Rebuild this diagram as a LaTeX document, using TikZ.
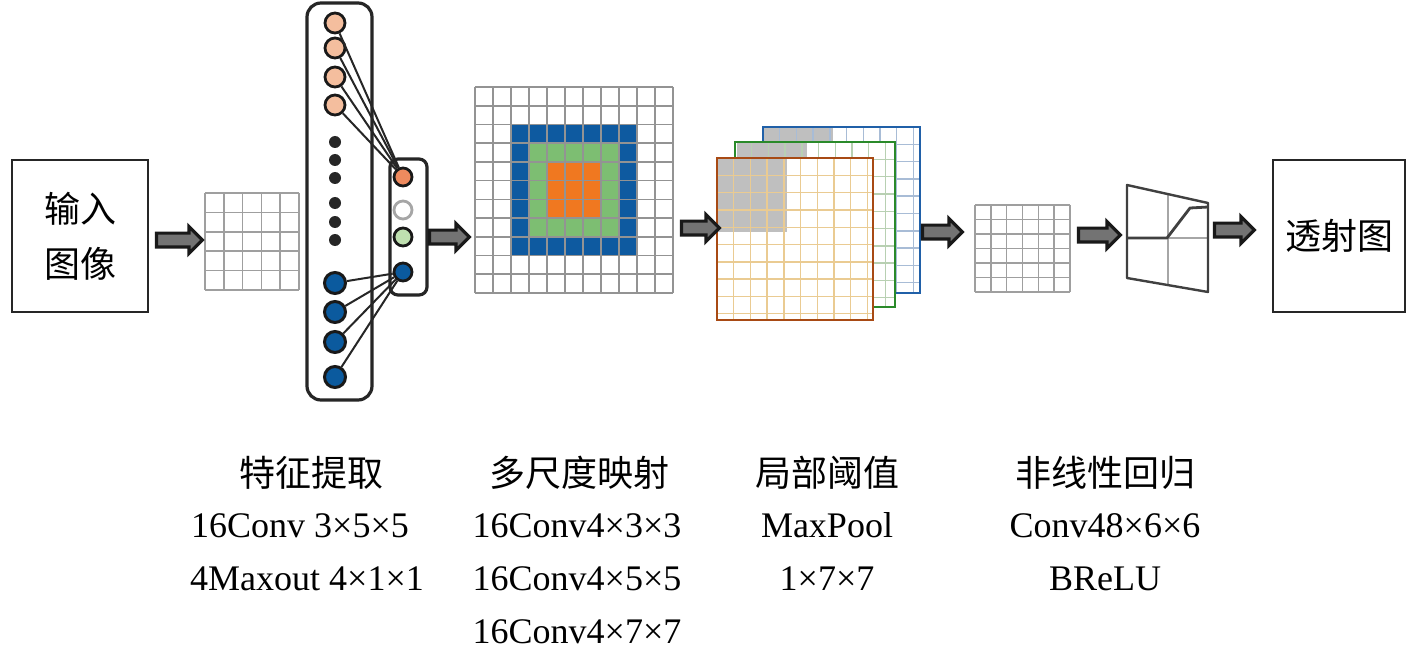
\documentclass[tikz,border=0pt]{standalone}
\usepackage{fontspec}
\setmainfont{Liberation Serif}
\newfontfamily\cjk{Noto Sans CJK SC}
\usetikzlibrary{shapes.arrows}
\definecolor{mblue}{HTML}{0E5AA0}
\definecolor{mgreen}{HTML}{7DBE72}
\definecolor{morange}{HTML}{F07820}
\definecolor{salmon}{HTML}{F4BE9E}
\definecolor{outorange}{HTML}{EE8A5E}
\definecolor{outgreen}{HTML}{BFE0B0}
\definecolor{cblue}{HTML}{0B5A9E}
\definecolor{fblue}{HTML}{2060A8}
\definecolor{fgreen}{HTML}{2A8A2A}
\definecolor{forange}{HTML}{A84A14}
\definecolor{gblue}{HTML}{A8BCD6}
\definecolor{ggreen}{HTML}{B8D0B2}
\definecolor{gorange}{HTML}{EACB92}
\tikzset{
 blk/.style={single arrow, draw=black!90, fill=black!55, line width=3.2pt, inner sep=5.3pt, single arrow head extend=6.5pt, minimum height=40pt},
 fcirc/.style={circle, draw=black!90, line width=2.8pt, minimum size=20pt, inner sep=0pt},
 bcirc/.style={circle, draw=black!90, fill=cblue, line width=3pt, minimum size=21pt, inner sep=0pt},
 ocirc/.style={circle, draw=black!90, line width=2.8pt, minimum size=18pt, inner sep=0pt},
 bdot/.style={circle, fill=black!85, minimum size=12pt, inner sep=0pt},
 conn/.style={draw=black!85, line width=2pt},
 gridln/.style={draw=gray!75, line width=1.6pt},
 lbl/.style={anchor=base, font=\fontsize{36}{40}\selectfont, inner sep=0pt},
 clbl/.style={anchor=base, font=\cjk\fontsize{36}{40}\selectfont, inner sep=0pt},
 txtbox/.style={draw=black!85, line width=1.6pt, align=center, font=\cjk\fontsize{36}{55}\selectfont, inner sep=0pt},
 panel/.style={rounded corners=14pt, line width=3.2pt, draw=black!85, fill=white}
}
\begin{document}
\begin{tikzpicture}[x=1pt,y=-1pt]
\useasboundingbox (0,0) rectangle (1410,655);
\fill[white] (0,0) rectangle (1410,655);

% input / output boxes
\node[txtbox, minimum width=136pt, minimum height=152pt] (in) at (80,236) {输入\\图像};
\node[txtbox, minimum width=132pt, minimum height=152pt] (out) at (1339,236) {透射图};

% input grid 5x5
\begin{scope}[shift={(205,193)}]
 \fill[white] (0,0) rectangle (94,97);
 \foreach \i in {0,...,5} { \draw[gridln] (\i*18.8,0) -- (\i*18.8,97); }
 \foreach \j in {0,...,5} { \draw[gridln] (0,\j*19.4) -- (94,\j*19.4); }
\end{scope}

% feature extraction panel
\draw[panel] (307,3) rectangle (372,400);
\draw[panel, rounded corners=8pt] (390,159) rectangle (427,295);
\node[fcirc, fill=salmon] (o1) at (335,23) {};
\node[fcirc, fill=salmon] (o2) at (335,48) {};
\node[fcirc, fill=salmon] (o3) at (335,77) {};
\node[fcirc, fill=salmon] (o4) at (335,105) {};
\node[bdot] (d1) at (335,142) {};
\node[bdot] (d2) at (335,160) {};
\node[bdot] (d3) at (335,178) {};
\node[bdot] (d4) at (335,203) {};
\node[bdot] (d5) at (335,222) {};
\node[bdot] (d6) at (335,240) {};
\node[bcirc] (b1) at (335,283) {};
\node[bcirc] (b2) at (335,312) {};
\node[bcirc] (b3) at (335,342) {};
\node[bcirc] (b4) at (335,377) {};
\node[ocirc, fill=outorange] (oo) at (403,177) {};
\node[ocirc, fill=white, draw=gray!70] (og) at (403,210) {};
\node[ocirc, fill=outgreen] (ogr) at (403,237) {};
\node[ocirc, fill=cblue] (ob) at (403,272) {};
\foreach \n in {o1,o2,o3,o4} { \draw[conn] (\n) -- (oo); }
\foreach \n in {b1,b2,b3,b4} { \draw[conn] (\n) -- (ob); }

% multi-scale grid 11x11
\begin{scope}[shift={(475,87)}, x=18pt, y=-18.727pt]
 \fill[white] (0,0) rectangle (11,11);
 \fill[mblue] (2,2) rectangle (9,9);
 \fill[mgreen] (3,3) rectangle (8,8);
 \fill[morange] (4,4) rectangle (7,7);
 \foreach \i in {0,...,11} { \draw[gridln, draw=gray!85] (\i,0) -- (\i,11); }
 \foreach \j in {0,...,11} { \draw[gridln, draw=gray!85] (0,\j) -- (11,\j); }
\end{scope}

% stacked maps
\begin{scope}[shift={(763,127)}]
 \fill[white] (0,0) rectangle (157,166);
 \fill[gray!50] (0,0) rectangle (70,74);
 \foreach \i in {1,...,9} { \draw[draw=gblue, line width=1.4pt] (\i*16.7,0) -- (\i*16.7,166); }
 \foreach \j in {1,...,9} { \draw[draw=gblue, line width=1.4pt] (0,\j*17.3) -- (157,\j*17.3); }
 \draw[fblue, line width=2.8pt] (0,0) rectangle (157,166);
\end{scope}
\begin{scope}[shift={(735,142)}]
 \fill[white] (0,0) rectangle (160,165);
 \fill[gray!50] (2,0) rectangle (72,74);
 \foreach \i in {1,...,9} { \draw[draw=ggreen, line width=1.4pt] (\i*16.7,0) -- (\i*16.7,165); }
 \foreach \j in {1,...,9} { \draw[draw=ggreen, line width=1.4pt] (0,\j*17.3) -- (160,\j*17.3); }
 \draw[fgreen, line width=2.8pt] (0,0) rectangle (160,165);
\end{scope}
\begin{scope}[shift={(717,158)}]
 \fill[white] (0,0) rectangle (156,162);
 \fill[gray!50] (0,0) rectangle (70,74);
 \foreach \i in {1,...,9} { \draw[draw=gorange, line width=1.4pt] (\i*16.7,0) -- (\i*16.7,162); }
 \foreach \j in {1,...,9} { \draw[draw=gorange, line width=1.4pt] (0,\j*17.3) -- (156,\j*17.3); }
 \draw[forange, line width=2.8pt] (0,0) rectangle (156,162);
\end{scope}

% small grid 6x6
\begin{scope}[shift={(975,205)}]
 \fill[white] (0,0) rectangle (95,87);
 \foreach \i in {0,...,6} { \draw[gridln] (\i*15.83,0) -- (\i*15.83,87); }
 \foreach \j in {0,...,6} { \draw[gridln] (0,\j*14.5) -- (95,\j*14.5); }
\end{scope}

% BReLU plot
\draw[gray!70, line width=1.3pt] (1168,194) -- (1168,285);
\draw[gray!70, line width=1.3pt] (1127,238) -- (1208,238);
\draw[black!75, line width=2.4pt, line join=round] (1127,185) -- (1208,203) -- (1208,292) -- (1127,278) -- cycle;
\draw[black!75, line width=2.8pt, line join=round] (1127,238) -- (1167,238) -- (1190,208) -- (1208,207);

% block arrows
\node[blk, minimum height=46pt] (a1) at (176,240) {};
\node[blk] (a2) at (446,237) {};
\node[blk, minimum height=38pt] (a3) at (697,228) {};
\node[blk] (a4) at (939,232) {};
\node[blk, minimum height=42pt] (a5) at (1096,235) {};
\node[blk] (a6) at (1231,230) {};

% labels
\node[clbl] (t1) at (311,486) {特征提取};
\node[lbl] (t2) at (300,537) {16Conv 3×5×5};
\node[lbl] (t3) at (307,590) {4Maxout 4×1×1};
\node[clbl] (m1) at (579,486) {多尺度映射};
\node[lbl] (m2) at (577,537) {16Conv4×3×3};
\node[lbl] (m3) at (577,590) {16Conv4×5×5};
\node[lbl] (m4) at (577,643) {16Conv4×7×7};
\node[clbl] (p1) at (827,486) {局部阈值};
\node[lbl] (p2) at (827,537) {MaxPool};
\node[lbl] (p3) at (827,590) {1×7×7};
\node[clbl] (r1) at (1105,486) {非线性回归};
\node[lbl] (r2) at (1105,537) {Conv48×6×6};
\node[lbl] (r3) at (1105,590) {BReLU};
\end{tikzpicture}
\end{document}
